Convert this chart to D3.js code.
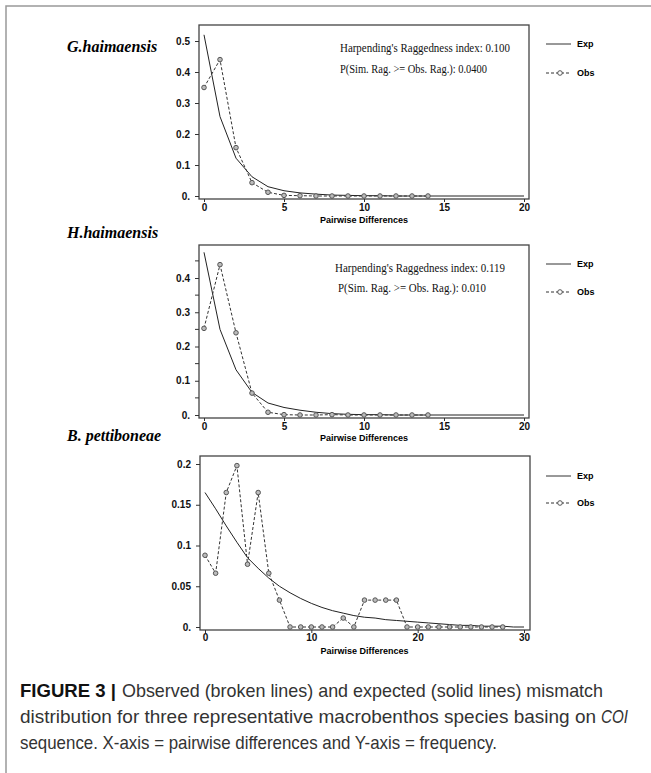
<!DOCTYPE html>
<html>
<head>
<meta charset="utf-8">
<script src="https://cdn.jsdelivr.net/npm/d3@7"></script>
<style>
  body { margin: 0; background: #fff; }
  svg { display: block; }
  .tick text { font-family: "Liberation Sans", Arial, sans-serif; font-weight: bold; font-size: 10px; fill: #111; }
  .tick line { stroke: #333; }
</style>
</head>
<body>
<div id="chart"></div>
<script>
// Pairwise differences (x) for each panel
const xG = d3.range(0, 21);
const xH = d3.range(0, 21);
const xB = d3.range(0, 31);

// G.haimaensis
const gObs = [0.35, 0.44, 0.156, 0.043, 0.012, 0.002, 0.001, 0, 0, 0, 0, 0, 0, 0, 0];
const gExp = [0.52, 0.256, 0.122, 0.062, 0.03, 0.017, 0.01, 0.006, 0.003, 0.002, 0.001, 0.001, 0, 0, 0, 0, 0, 0, 0, 0, 0];

// H.haimaensis
const hObs = [0.253, 0.439, 0.24, 0.064, 0.008, 0.001, 0, 0, 0.001, 0, 0, 0, 0, 0, 0];
const hExp = [0.475, 0.25, 0.132, 0.066, 0.035, 0.022, 0.014, 0.008, 0.004, 0.002, 0.001, 0.001, 0, 0, 0, 0, 0, 0, 0, 0, 0];

// B. pettiboneae
const bObs = [0.088, 0.066, 0.165, 0.198, 0.077, 0.165, 0.066, 0.033, 0, 0, 0, 0, 0, 0.011, 0,
              0.033, 0.033, 0.033, 0.033, 0, 0, 0, 0, 0, 0, 0, 0, 0, 0];
const bExp = [0.165, 0.145, 0.124, 0.104, 0.085, 0.072, 0.06, 0.05, 0.042, 0.035, 0.029, 0.024, 0.02,
              0.017, 0.014, 0.012, 0.011, 0.009, 0.008, 0.007, 0.006, 0.005, 0.004, 0.003, 0.002,
              0.002, 0.001, 0.001, 0.001, 0, 0];

const species = ["G.haimaensis", "H.haimaensis", "B. pettiboneae"];
const raggedness = ["Harpending's Raggedness index: 0.100", "Harpending's Raggedness index: 0.119", null];
const pValues = ["P(Sim. Rag. >= Obs. Rag.): 0.0400", "P(Sim. Rag. >= Obs. Rag.): 0.010", null];
const xTicks = [[0, 5, 10, 15, 20], [0, 5, 10, 15, 20], [0, 10, 20, 30]];
const yTicks = [[0, 0.1, 0.2, 0.3, 0.4, 0.5], [0, 0.1, 0.2, 0.3, 0.4], [0, 0.05, 0.1, 0.15, 0.2]];
const yMinor = [[], [0.05, 0.15, 0.25, 0.35, 0.45], []];
const legendLabels = ["Exp", "Obs"];

const W = 651, H = 773;
const svg = d3.select("#chart").append("svg")
    .attr("width", W).attr("height", H);

// outer figure frame (top and left edges only visible)
svg.append("path")
    .attr("d", `M6,${H} L6,6 L${W},6`)
    .attr("fill", "none").attr("stroke", "#999").attr("stroke-width", 1.5);

// panel layout: frame box, pixel of x=0/xmax and y=0/ytop tick
const panels = [
    { x: xG, obs: gObs, exp: gExp, frame: [199, 25, 529, 199], xr: [204, 524], xd: [0, 20], yr: [196, 41], yd: [0, 0.5],
      label: [67, 52], txt: [[340, 52, 170], [340, 73, 147]], leg: [44, 73], xlab: 211, xtitle: 223 },
    { x: xH, obs: hObs, exp: hExp, frame: [199, 245, 529, 418], xr: [204, 524], xd: [0, 20], yr: [415, 278], yd: [0, 0.4],
      label: [67, 238], txt: [[335, 272, 170], [338, 292, 148]], leg: [264, 292], xlab: 430, xtitle: 441 },
    { x: xB, obs: bObs, exp: bExp, frame: [200, 456, 530, 630], xr: [205, 524], xd: [0, 30], yr: [627, 464], yd: [0, 0.2],
      label: [67, 441], txt: null, leg: [476, 503], xlab: 641, xtitle: 654 }
];

const fmtY = d => d === 0 ? "0." : String(d);

panels.forEach((p, i) => {
    const x = d3.scaleLinear().domain(p.xd).range(p.xr);
    const y = d3.scaleLinear().domain(p.yd).range(p.yr);
    const g = svg.append("g");
    const [fx0, fy0, fx1, fy1] = p.frame;

    // frame
    g.append("rect")
        .attr("x", fx0).attr("y", fy0)
        .attr("width", fx1 - fx0).attr("height", fy1 - fy0)
        .attr("fill", "none").attr("stroke", "#444").attr("stroke-width", 1.3);

    // x axis
    const xa = g.append("g")
        .attr("transform", `translate(0,${fy1})`)
        .call(d3.axisBottom(x).tickValues(xTicks[i]).tickSize(3).tickPadding(2).tickFormat(d3.format("d")));
    xa.select(".domain").remove();
    xa.selectAll(".tick text").attr("y", null).attr("dy", null)
        .attr("transform", `translate(0,${p.xlab - fy1})`);

    // y axis
    const ya = g.append("g")
        .attr("transform", `translate(${fx0},0)`)
        .call(d3.axisLeft(y).tickValues(yTicks[i]).tickSize(4).tickPadding(5).tickFormat(fmtY));
    ya.select(".domain").remove();
    if (yMinor[i].length) {
        ya.selectAll(".minor").data(yMinor[i]).join("line")
            .attr("class", "minor")
            .attr("x1", -4).attr("x2", 0)
            .attr("y1", d => y(d)).attr("y2", d => y(d))
            .attr("stroke", "#333");
    }

    // x axis title
    g.append("text")
        .attr("x", x((p.xd[0] + p.xd[1]) / 2)).attr("y", p.xtitle)
        .attr("text-anchor", "middle")
        .style("font-family", "'Liberation Sans', Arial, sans-serif")
        .style("font-weight", "bold").style("font-size", "9px")
        .text("Pairwise Differences");

    // species label
    svg.append("text")
        .attr("x", p.label[0]).attr("y", p.label[1])
        .style("font-family", "'Liberation Serif', 'Times New Roman', serif")
        .style("font-weight", "bold").style("font-style", "italic").style("font-size", "16px")
        .text(species[i]);

    // expected line (solid)
    const line = d3.line().x((d, k) => x(k)).y(d => y(d));
    g.append("path")
        .datum(p.exp)
        .attr("d", line)
        .attr("fill", "none").attr("stroke", "#222").attr("stroke-width", 1);

    // observed line (dashed) with circles
    g.append("path")
        .datum(p.obs)
        .attr("d", line)
        .attr("fill", "none").attr("stroke", "#333").attr("stroke-width", 1)
        .attr("stroke-dasharray", "3,2");
    g.selectAll(".pt").data(p.obs).join("circle")
        .attr("class", "pt")
        .attr("cx", (d, k) => x(k)).attr("cy", d => y(d))
        .attr("r", 2.3)
        .attr("fill", "#bbb").attr("stroke", "#555").attr("stroke-width", 1);

    // raggedness text
    if (raggedness[i]) {
        [raggedness[i], pValues[i]].forEach((t, k) => {
            g.append("text")
                .attr("x", p.txt[k][0]).attr("y", p.txt[k][1])
                .attr("textLength", p.txt[k][2]).attr("lengthAdjust", "spacingAndGlyphs")
                .style("font-family", "'Liberation Serif', 'Times New Roman', serif")
                .style("font-size", "12px").style("fill", "#111")
                .text(t);
        });
    }

    // legend
    legendLabels.forEach((lab, k) => {
        const ly = p.leg[k];
        g.append("line")
            .attr("x1", 546).attr("x2", 571).attr("y1", ly).attr("y2", ly)
            .attr("stroke", "#333").attr("stroke-width", 1)
            .attr("stroke-dasharray", k === 1 ? "3,2" : null);
        if (k === 1) {
            g.append("circle").attr("cx", 560).attr("cy", ly).attr("r", 2.3)
                .attr("fill", "#fff").attr("stroke", "#555");
        }
        g.append("text")
            .attr("x", 577).attr("y", ly + 3)
            .style("font-family", "'Liberation Sans', Arial, sans-serif")
            .style("font-weight", "bold").style("font-size", "9px")
            .text(lab);
    });
});

// caption pieces, each squeezed to the width it has in the reference
const captionParts = [
    { x: 20,  y: 697, w: 96,  s: "FIGURE 3 |", st: "bold" },
    { x: 122, y: 697, w: 481, s: "Observed (broken lines) and expected (solid lines) mismatch", st: "" },
    { x: 20,  y: 723, w: 576, s: "distribution for three representative macrobenthos species basing on", st: "" },
    { x: 601, y: 723, w: 27,  s: "COI", st: "italic" },
    { x: 20,  y: 749, w: 477, s: "sequence. X-axis = pairwise differences and Y-axis = frequency.", st: "" }
];
svg.selectAll(".caption").data(captionParts).join("text")
    .attr("class", "caption")
    .attr("x", d => d.x).attr("y", d => d.y)
    .attr("textLength", d => d.w).attr("lengthAdjust", "spacingAndGlyphs")
    .style("font-family", "'Liberation Sans', Arial, sans-serif")
    .style("font-size", "19px")
    .style("font-weight", d => d.st === "bold" ? "bold" : "normal")
    .style("font-style", d => d.st === "italic" ? "italic" : "normal")
    .style("fill", d => d.st === "bold" ? "#111" : "#333")
    .text(d => d.s);
</script>
</body>
</html>
